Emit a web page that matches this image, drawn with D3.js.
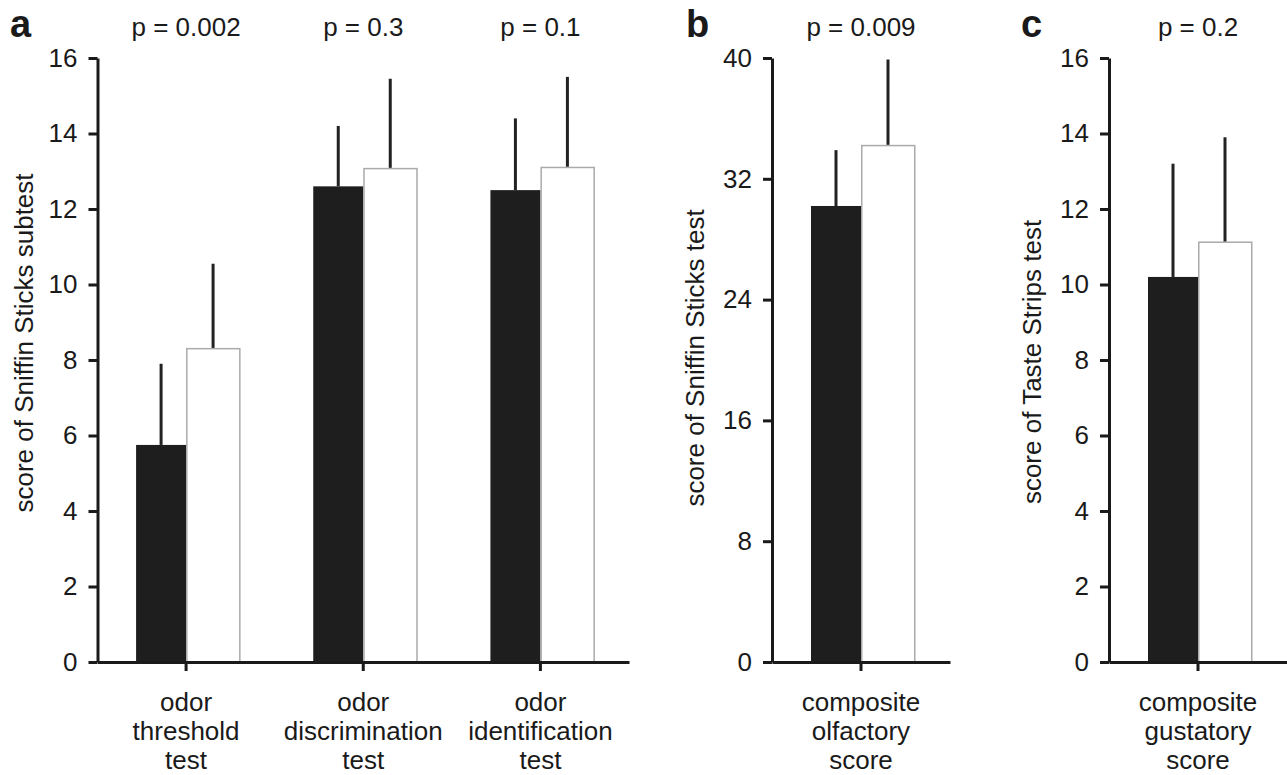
<!DOCTYPE html>
<html>
<head>
<meta charset="utf-8">
<script src="https://cdn.jsdelivr.net/npm/d3@7"></script>
<style>
  body { margin: 0; background: #fff; }
  svg { display: block; }
  text { font-family: "Liberation Sans", Arial, Helvetica, sans-serif; fill: #1a1a1a; }
</style>
</head>
<body>
<svg id="chart" width="1287" height="775"></svg>
<script>
'use strict';

// panel a: Sniffin Sticks subtests
const catsA = [['odor', 'threshold', 'test'], ['odor', 'discrimination', 'test'], ['odor', 'identification', 'test']];
const blackA = [5.75, 12.6, 12.5];
const blackErrA = [7.9, 14.2, 14.4];
const whiteA = [8.3, 13.07, 13.1];
const whiteErrA = [10.55, 15.45, 15.5];
const pA = ['p = 0.002', 'p = 0.3', 'p = 0.1'];
const ticksA = [0, 2, 4, 6, 8, 10, 12, 14, 16];

// panel b: composite olfactory score
const catsB = [['composite', 'olfactory', 'score']];
const blackB = [30.2];
const blackErrB = [33.9];
const whiteB = [34.2];
const whiteErrB = [39.9];
const pB = ['p = 0.009'];
const ticksB = [0, 8, 16, 24, 32, 40];

// panel c: composite gustatory score
const catsC = [['composite', 'gustatory', 'score']];
const blackC = [10.2];
const blackErrC = [13.2];
const whiteC = [11.12];
const whiteErrC = [13.9];
const pC = ['p = 0.2'];
const ticksC = [0, 2, 4, 6, 8, 10, 12, 14, 16];

const svg = d3.select('#chart');
const plotTop = 58, plotBottom = 662;

function panel(opt) {
  const g = svg.append('g');
  const y = d3.scaleLinear().domain([0, opt.max]).range([plotBottom, plotTop]);
  const keys = opt.cats.map((c, i) => i);
  const x = d3.scaleBand().domain(keys).range([opt.x0, opt.x1]);
  const c = i => x(i) + x.bandwidth() / 2;

  // bars
  g.selectAll('.blk').data(opt.black).join('rect')
    .attr('x', (d, i) => c(i) - 50).attr('y', d => y(d))
    .attr('width', 50).attr('height', d => plotBottom - y(d))
    .attr('fill', '#1e1e1e');
  g.selectAll('.wht').data(opt.white).join('rect')
    .attr('x', (d, i) => c(i) + 0.75).attr('y', d => y(d))
    .attr('width', 53).attr('height', d => plotBottom - y(d))
    .attr('fill', '#fff').attr('stroke', '#aaa').attr('stroke-width', 1.5);

  // error bars (upper only)
  g.selectAll('.eb').data(opt.blackErr).join('line')
    .attr('x1', (d, i) => c(i) - 25).attr('x2', (d, i) => c(i) - 25)
    .attr('y1', (d, i) => y(opt.black[i])).attr('y2', d => y(d))
    .attr('stroke', '#222').attr('stroke-width', 3);
  g.selectAll('.ew').data(opt.whiteErr).join('line')
    .attr('x1', (d, i) => c(i) + 27).attr('x2', (d, i) => c(i) + 27)
    .attr('y1', (d, i) => y(opt.white[i]) - 0.75).attr('y2', d => y(d))
    .attr('stroke', '#222').attr('stroke-width', 3);

  // y axis
  const ya = g.append('g')
    .attr('transform', `translate(${opt.x0},0)`)
    .call(d3.axisLeft(y).tickValues(opt.ticks).tickSize(9).tickSizeOuter(0).tickPadding(11));
  ya.select('.domain').attr('stroke', '#1a1a1a').attr('stroke-width', 3);
  ya.selectAll('.tick line').attr('stroke', '#1a1a1a').attr('stroke-width', 3);
  ya.selectAll('.tick text').attr('font-size', 26).attr('fill', '#1a1a1a')
    .style('font-family', '"Liberation Sans", Arial, sans-serif');

  // x axis
  const xa = g.append('g')
    .attr('transform', `translate(0,${plotBottom})`)
    .call(d3.axisBottom(x).tickSize(9).tickSizeOuter(0).tickFormat(''));
  xa.select('.domain').attr('stroke', '#1a1a1a').attr('stroke-width', 3);
  xa.selectAll('.tick line').attr('stroke', '#1a1a1a').attr('stroke-width', 3);

  // category labels
  opt.cats.forEach((lines, i) => {
    const t = g.append('text').attr('text-anchor', 'middle').attr('font-size', 26);
    lines.forEach((l, j) => {
      t.append('tspan').attr('x', c(i)).attr('y', 711 + j * 29).text(l);
    });
  });

  // p values
  g.selectAll('.pv').data(opt.p).join('text')
    .attr('x', (d, i) => c(i)).attr('y', 36)
    .attr('text-anchor', 'middle').attr('font-size', 26).text(d => d);

  // y label
  g.append('text')
    .attr('transform', `translate(${opt.labelX},${opt.labelY}) rotate(-90)`)
    .attr('text-anchor', 'middle').attr('font-size', 26).text(opt.label);

  // panel letter
  g.append('text').attr('x', opt.letterX).attr('y', 37)
    .attr('font-size', 38).attr('font-weight', 'bold').text(opt.letter);
}

panel({ cats: catsA, black: blackA, blackErr: blackErrA, white: whiteA, whiteErr: whiteErrA,
  p: pA, ticks: ticksA, max: 16, x0: 97.5, x1: 629,
  label: 'score of Sniffin Sticks subtest', labelX: 33, labelY: 343, letter: 'a', letterX: 10 });
panel({ cats: catsB, black: blackB, blackErr: blackErrB, white: whiteB, whiteErr: whiteErrB,
  p: pB, ticks: ticksB, max: 40, x0: 772, x1: 950,
  label: 'score of Sniffin Sticks test', labelX: 704, labelY: 358, letter: 'b', letterX: 686 });
panel({ cats: catsC, black: blackC, blackErr: blackErrC, white: whiteC, whiteErr: whiteErrC,
  p: pC, ticks: ticksC, max: 16, x0: 1109, x1: 1287,
  label: 'score of Taste Strips test', labelX: 1041, labelY: 362, letter: 'c', letterX: 1021 });
</script>
</body>
</html>
